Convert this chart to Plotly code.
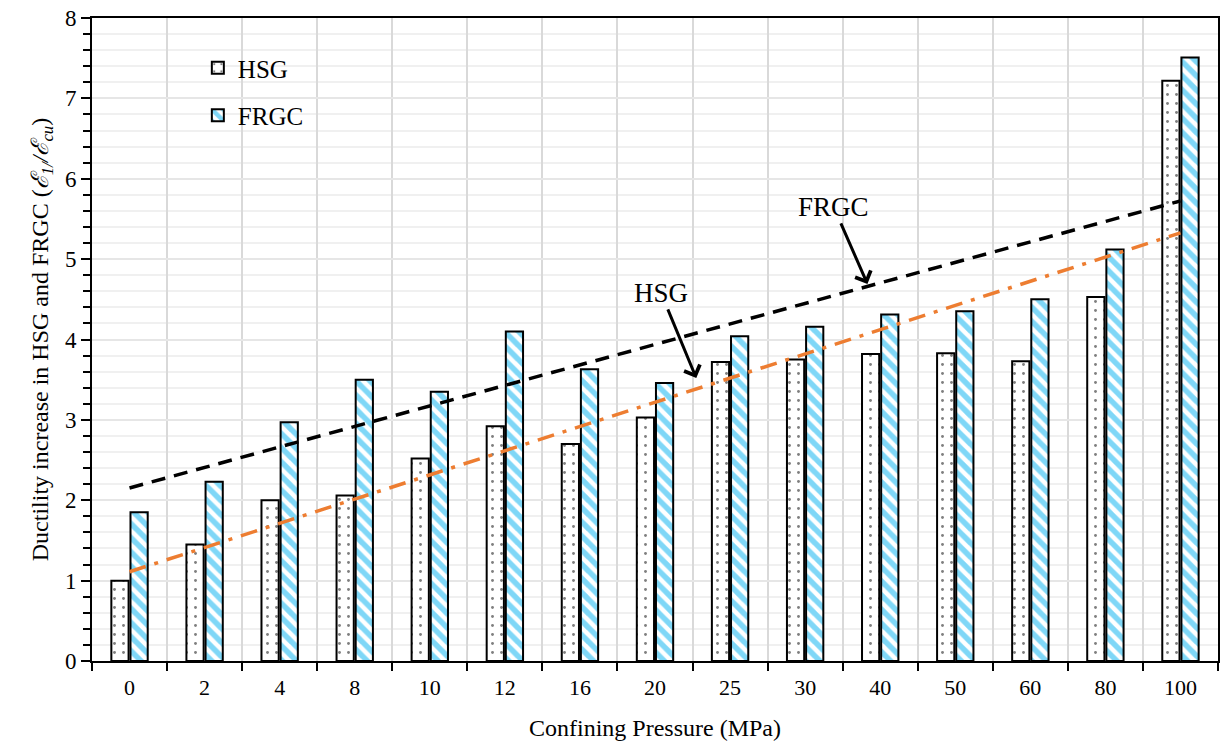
import numpy as np
import plotly.graph_objects as go

categories = ["0", "2", "4", "8", "10", "12", "16", "20", "25", "30", "40", "50", "60", "80", "100"]
hsg = [1.00, 1.45, 2.00, 2.06, 2.52, 2.92, 2.70, 3.03, 3.72, 3.75, 3.82, 3.83, 3.73, 4.53, 7.22]
frgc = [1.85, 2.23, 2.97, 3.50, 3.35, 4.10, 3.63, 3.46, 4.04, 4.16, 4.31, 4.35, 4.50, 5.12, 7.51]
y_ticks = [0, 1, 2, 3, 4, 5, 6, 7, 8]

FONT = "Liberation Serif, Times New Roman, serif"

idx = np.arange(len(categories))
hsg_fit = np.polyval(np.polyfit(idx, hsg, 1), idx)
frgc_fit = np.polyval(np.polyfit(idx, frgc, 1), idx)

fig = go.Figure()
fig.add_trace(go.Bar(
    x=categories, y=hsg, name="HSG", legendgroup="a",
    marker=dict(color="white", line=dict(color="black", width=2),
                pattern=dict(shape=".", fgcolor="black", bgcolor="white", size=9, solidity=0.08)),
))
fig.add_trace(go.Bar(
    x=categories, y=frgc, name="FRGC", legendgroup="b",
    marker=dict(color="white", line=dict(color="black", width=2),
                pattern=dict(shape="\\", fgcolor="#00B0F0", bgcolor="white", size=10, solidity=0.55)),
))
fig.add_trace(go.Scatter(
    x=categories, y=frgc_fit, mode="lines", showlegend=False,
    line=dict(color="black", width=3.5, dash="14px,9px"),
))
fig.add_trace(go.Scatter(
    x=categories, y=hsg_fit, mode="lines", showlegend=False,
    line=dict(color="#ED7D31", width=3.5, dash="17px,9px,4px,9px"),
))

# annotations with arrows (text placed at arrow tail)
fig.add_annotation(x=9.83, y=4.69, ax=9.38, ay=5.65, axref="x", ayref="y",
                   text="FRGC", showarrow=True, arrowhead=4, arrowsize=1.1, arrowwidth=3,
                   arrowcolor="black", font=dict(family=FONT, size=27, color="black"))
fig.add_annotation(x=7.55, y=3.52, ax=7.08, ay=4.58, axref="x", ayref="y",
                   text="HSG", showarrow=True, arrowhead=4, arrowsize=1.1, arrowwidth=3,
                   arrowcolor="black", font=dict(family=FONT, size=27, color="black"))

fig.update_layout(
    width=1222, height=746,
    margin=dict(l=92, r=2, t=18, b=85),
    paper_bgcolor="white", plot_bgcolor="white",
    barmode="group", bargap=0.49, bargroupgap=0.1,
    font=dict(family=FONT, size=20, color="black"),
    legend=dict(x=0.094, y=0.958, xanchor="left", yanchor="top",
                bgcolor="rgba(0,0,0,0)", font=dict(family=FONT, size=25),
                traceorder="grouped", tracegroupgap=12),
    xaxis=dict(
        type="category", tickson="boundaries", ticks="outside", ticklen=8, tickwidth=2,
        tickcolor="black", showline=True, linecolor="black", linewidth=2, mirror=True,
        showgrid=True, gridcolor="#d9d9d9", gridwidth=1.5,
        tickfont=dict(family=FONT, size=22), ticklabelstandoff=6,
        title=dict(text="Confining Pressure (MPa)", font=dict(family=FONT, size=24), standoff=20),
    ),
    yaxis=dict(
        range=[0, 8], tickvals=y_ticks, ticks="outside", ticklen=9, tickwidth=2, tickcolor="black",
        showline=True, linecolor="black", linewidth=2, mirror=True,
        showgrid=True, gridcolor="#e6e6e6", gridwidth=1.5, zeroline=False,
        minor=dict(dtick=0.2, ticks="outside", ticklen=7, tickwidth=2, tickcolor="black",
                   showgrid=True, gridcolor="#f0f0f0", gridwidth=1.5),
        tickfont=dict(family=FONT, size=23),
        title=dict(text="Ductility increase in HSG and FRGC (<i>ℰ<sub>1/</sub>/ℰ<sub>cu</sub></i>)",
                   font=dict(family=FONT, size=24), standoff=10),
    ),
)

fig.write_html("out.html")
